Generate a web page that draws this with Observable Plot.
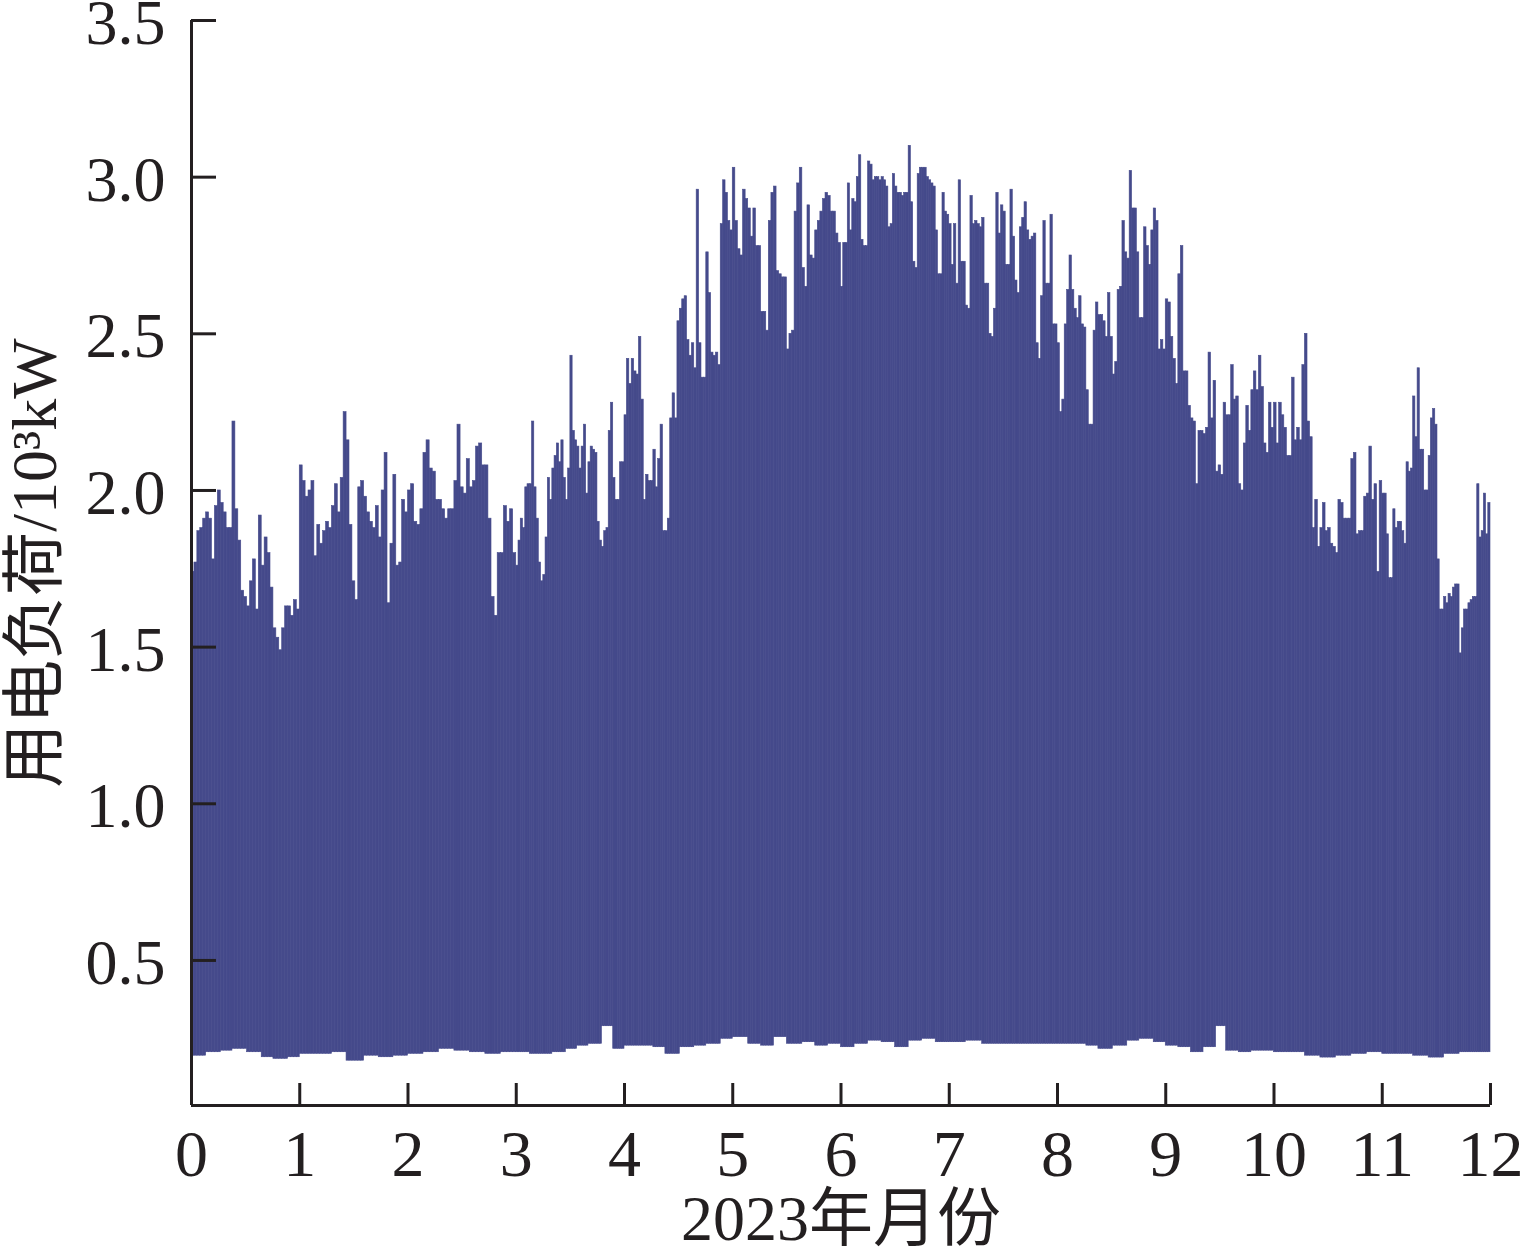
<!DOCTYPE html>
<html>
<head>
<meta charset="utf-8">
<script src="https://cdn.jsdelivr.net/npm/d3@7"></script>
<script src="https://cdn.jsdelivr.net/npm/@observablehq/plot@0.6"></script>
<style>
  html, body { margin: 0; padding: 0; background: #ffffff; }
  #chart svg { display: block; }
</style>
</head>
<body>
<div id="chart"></div>
<script>
// ---- tick values ----
const monthTicks = [0, 1, 2, 3, 4, 5, 6, 7, 8, 9, 10, 11, 12];
const loadTicks = [0.5, 1.0, 1.5, 2.0, 2.5, 3.0, 3.5];
const yDomain = [0.037, 3.5];

// ---- daily peak load (10^3 kW), sampled across each month ----
const peakM01 = [1.74,1.77,1.87,1.88,1.91,1.93,1.91,1.78,1.95,2.00,1.96,1.93,1.88,1.88,2.22,1.94,1.84,1.68,1.66,1.63,1.71,1.78,1.62,1.92,1.76,1.85,1.80,1.69,1.56,1.53,1.49,1.56,1.63,1.63,1.60,1.65,1.62];
const peakM02 = [2.08,2.03,1.98,2.00,2.03,1.79,1.89,1.83,1.87,1.90,1.88,1.95,2.02,1.93,2.04,2.25,2.16,1.89,1.71,1.65,2.01,2.03,1.98,1.93,1.90,1.88,1.95,1.85,2.00,2.12,1.64,1.83,2.05,1.76,1.77,1.97,1.93];
const peakM03 = [2.00,2.02,1.90,1.89,1.94,2.12,2.16,2.07,2.06,1.97,1.97,1.94,1.91,1.94,1.94,2.03,2.21,2.01,1.99,2.10,2.01,2.03,2.14,2.15,2.08,2.08,1.91,1.66,1.60,1.80,1.80,1.95,1.90,1.94,1.80];
const peakM04 = [1.76,1.84,1.91,1.88,2.01,2.02,2.02,2.22,2.01,1.91,1.77,1.71,1.73,1.85,2.04,1.97,2.07,2.11,2.15,2.09,2.16,2.04,1.97,2.07,2.43,2.19,2.16,2.14,2.07,2.14,2.21,1.99,2.09,2.14,2.13,2.12,1.90,1.84,1.82,1.87,1.88,2.19,2.28,2.04,1.97,1.97,2.09,2.09];
const peakM05 = [2.24,2.42,2.34,2.42,2.38,2.37,2.49,2.29,1.97,2.05,2.03,2.03,2.13,2.01,2.10,2.21,1.87,1.87,1.91,2.23,2.31,2.23,2.54,2.58,2.61,2.62,2.48,2.43,2.47,2.39,2.96,2.47,2.36,2.36,2.76,2.63,2.44,2.43,2.44,2.40,2.85,2.99,2.95,2.86,2.83];
const peakM06 = [3.03,2.86,2.77,2.75,2.96,2.93,2.90,2.81,2.90,2.78,2.78,2.57,2.57,2.51,2.86,2.95,2.97,2.70,2.69,2.68,2.68,2.45,2.50,2.51,2.89,2.98,3.03,2.71,2.65,2.91,2.75,2.74,2.83,2.86,2.89,2.93,2.95,2.94,2.89,2.89,2.82,2.79];
const peakM07 = [2.65,2.79,2.79,2.98,2.83,2.93,2.92,3.00,3.07,2.80,2.78,2.78,3.05,3.04,2.99,3.00,3.00,2.99,3.00,2.99,2.97,2.84,2.85,3.01,2.97,2.95,2.95,2.94,2.95,2.95,3.10,2.92,2.73,2.71,3.01,3.03,3.03,3.03,3.00,2.99,2.98,2.97,2.83,2.69,2.69,2.95,2.89,2.88];
const peakM08 = [2.85,2.72,2.85,2.66,2.99,2.73,2.73,2.59,2.58,2.94,2.85,2.86,2.85,2.84,2.87,2.66,2.66,2.50,2.49,2.58,2.95,2.82,2.91,2.89,2.72,2.72,2.96,2.81,2.67,2.63,2.84,2.87,2.92,2.83,2.80,2.81,2.82,2.47,2.42,2.62,2.86,2.66,2.66,2.88,2.53,2.53];
const peakM09 = [2.47,2.25,2.29,2.53,2.64,2.75,2.64,2.58,2.55,2.62,2.53,2.52,2.32,2.21,2.21,2.51,2.60,2.56,2.56,2.54,2.49,2.63,2.49,2.37,2.41,2.64,2.65,2.86,2.76,2.74,3.02,2.90,2.90,2.76,2.55,2.55,2.84,2.78,2.72,2.83,2.90,2.86,2.45,2.48,2.45];
const peakM10 = [2.61,2.60,2.49,2.42,2.34,2.69,2.78,2.38,2.38,2.27,2.23,2.22,2.02,2.19,2.19,2.18,2.20,2.44,2.23,2.35,2.06,2.08,2.05,2.28,2.24,2.24,2.40,2.29,2.30,2.02,2.00,2.15,2.27,2.19,2.32,2.38,2.32,2.43,2.33,2.15,2.12,2.28,2.20];
const peakM11 = [2.28,2.15,2.28,2.24,2.20,2.11,2.11,2.36,2.16,2.20,2.16,2.40,2.50,2.22,2.17,1.88,1.97,1.82,1.88,1.96,1.87,1.88,1.83,1.82,1.80,1.97,1.96,1.91,1.91,1.91,2.10,2.12,1.86,1.87,1.87,1.98,1.99,2.14,1.97,2.02,1.74,2.03];
const peakM12 = [1.99,1.99,1.86,1.72,1.72,1.94,1.88,1.90,1.90,1.87,1.83,2.09,2.06,2.07,2.30,2.17,2.39,2.13,2.13,2.00,2.00,2.11,2.23,2.26,2.21,1.78,1.62,1.62,1.66,1.64,1.67,1.66,1.69,1.70,1.70,1.48,1.56,1.62,1.62,1.64,1.65,1.66,1.66,2.02,1.85,1.87,1.99,1.86,1.96];

// ---- daily minimum load (10^3 kW), sampled across each month ----
const lowM01 = [0.196,0.207,0.212,0.218,0.207,0.191,0.186,0.191];
const lowM02 = [0.202,0.202,0.207,0.180,0.196,0.191,0.196];
const lowM03 = [0.202,0.207,0.218,0.212,0.207,0.202,0.207];
const lowM04 = [0.207,0.202,0.202,0.207,0.218,0.228,0.234,0.290,0.218];
const lowM05 = [0.228,0.228,0.223,0.202,0.223,0.228,0.234,0.250];
const lowM06 = [0.255,0.234,0.228,0.255,0.234,0.239,0.228,0.234];
const lowM07 = [0.223,0.234,0.244,0.239,0.223,0.244,0.250,0.239];
const lowM08 = [0.239,0.244,0.234,0.234,0.234,0.234,0.234];
const lowM09 = [0.234,0.234,0.228,0.218,0.228,0.244,0.250,0.239];
const lowM10 = [0.228,0.223,0.207,0.223,0.290,0.212,0.207,0.212,0.212];
const lowM11 = [0.207,0.207,0.196,0.190,0.196,0.202,0.207];
const lowM12 = [0.202,0.202,0.196,0.190,0.202,0.207,0.207];

const peaks = [peakM01,peakM02,peakM03,peakM04,peakM05,peakM06,peakM07,peakM08,peakM09,peakM10,peakM11,peakM12];
const lows  = [lowM01,lowM02,lowM03,lowM04,lowM05,lowM06,lowM07,lowM08,lowM09,lowM10,lowM11,lowM12];

const rows = [];
peaks.forEach((p, m) => {
  const lo = lows[m];
  p.forEach((v, i) => {
    rows.push({
      x1: m + i / p.length,
      x2: m + (i + 1) / p.length,
      lo: lo[Math.floor(i * lo.length / p.length)],
      hi: v
    });
  });
});

const ink = "#231f20";
const barColor = "#454a8b";
const font = "'Liberation Serif', 'Times New Roman', 'Noto Sans CJK SC', serif";

const chart = Plot.plot({
  width: 1522,
  height: 1252,
  marginLeft: 191,
  marginRight: 32,
  marginTop: 20,
  marginBottom: 147,
  x: {domain: [0, 12], axis: null},
  y: {domain: yDomain, axis: null},
  style: {fontFamily: font, fontSize: "64px", color: ink, background: "#ffffff", overflow: "visible"},
  marks: [
    Plot.rectY(rows, {x1: "x1", x2: "x2", y1: "lo", y2: "hi", fill: barColor, stroke: barColor, strokeWidth: 0.6, inset: 0}),
    Plot.ruleX([0], {stroke: ink, strokeWidth: 3}),
    Plot.ruleY([yDomain[0]], {stroke: ink, strokeWidth: 3}),
    Plot.axisY(loadTicks, {anchor: "left", tickSize: -25, strokeWidth: 3, stroke: ink, tickFormat: () => "", label: null}),
    Plot.axisY(loadTicks, {anchor: "left", tickSize: 0, tickPadding: 26, dy: 3, tickFormat: d => d.toFixed(1), fontSize: 64, fill: ink, label: null}),
    Plot.axisX(monthTicks, {anchor: "bottom", tickSize: -22, strokeWidth: 3, stroke: ink, tickFormat: () => "", label: null}),
    Plot.axisX(monthTicks, {anchor: "bottom", tickSize: 0, tickPadding: 24, tickFormat: d => String(d), fontSize: 66, fill: ink, label: null}),
    Plot.text(["2023年月份"], {frameAnchor: "bottom", dy: 134, fontSize: 64, fill: ink}),
    Plot.text(["用电负荷/10³kW"], {frameAnchor: "left", dx: -156, rotate: -90, textAnchor: "middle", fontSize: 64, fill: ink})
  ]
});

document.getElementById("chart").appendChild(chart);
</script>
</body>
</html>
